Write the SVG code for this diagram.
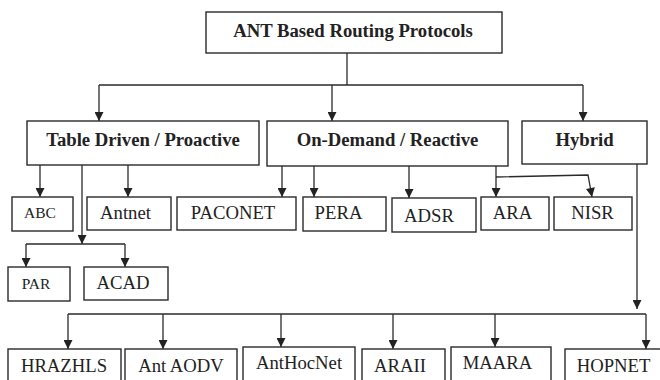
<svg xmlns="http://www.w3.org/2000/svg" width="660" height="380" viewBox="0 0 660 380">
<style>
.box{fill:#fff;stroke:#2a2a2a;stroke-width:1.4}
.t{font-family:"Liberation Serif","Times New Roman",serif;font-size:18.7px;fill:#222;text-anchor:middle}
.b{font-weight:bold}
.s{font-size:15.5px}
.c{fill:none;stroke:#2a2a2a;stroke-width:1.3}
</style>
<defs>
<marker id="ah" viewBox="0 0 10 10" refX="10" refY="5" markerWidth="10" markerHeight="9" markerUnits="userSpaceOnUse" orient="auto">
<path d="M0,0 L10,5 L0,10 z" fill="#222"/>
</marker>
</defs>
<rect width="660" height="380" fill="#fff"/>
<g id="connectors" class="c">
<path d="M347 53 V85"/>
<path d="M99 85 H583"/>
<path d="M99 85 V121" marker-end="url(#ah)"/>
<path d="M332 85 V121" marker-end="url(#ah)"/>
<path d="M583 85 V121" marker-end="url(#ah)"/>
<path d="M40 165 V197" marker-end="url(#ah)"/>
<path d="M82 165 V244" marker-end="url(#ah)"/>
<path d="M128 165 V197" marker-end="url(#ah)"/>
<path d="M26 244 H125"/>
<path d="M26 244 V267" marker-end="url(#ah)"/>
<path d="M125 244 V267" marker-end="url(#ah)"/>
<path d="M282 166 V197" marker-end="url(#ah)"/>
<path d="M314 166 V197" marker-end="url(#ah)"/>
<path d="M409 166 V198" marker-end="url(#ah)"/>
<path d="M496 166 V197" marker-end="url(#ah)"/>
<path d="M496 177 L588 175 L592 197" marker-end="url(#ah)"/>
<path d="M637 164 V309" marker-end="url(#ah)"/>
<path d="M68 314 H646"/>
<path d="M68 314 V349" marker-end="url(#ah)"/>
<path d="M163 314 V349" marker-end="url(#ah)"/>
<path d="M281 314 V347" marker-end="url(#ah)"/>
<path d="M393 314 V349" marker-end="url(#ah)"/>
<path d="M495 314 V347" marker-end="url(#ah)"/>
<path d="M646 314 V349" marker-end="url(#ah)"/>
</g>
<g id="root"><rect class="box" x="206" y="12" width="296" height="41"/><text class="t b" x="353" y="37">ANT Based Routing Protocols</text></g>
<g id="table"><rect class="box" x="27" y="121" width="232" height="44"/><text class="t b" x="143" y="146">Table Driven / Proactive</text></g>
<g id="ondemand"><rect class="box" x="267" y="121" width="241" height="45"/><text class="t b" x="387.5" y="146">On-Demand / Reactive</text></g>
<g id="hybrid"><rect class="box" x="522" y="121" width="125" height="43"/><text class="t b" x="584.5" y="146">Hybrid</text></g>
<g id="abc"><rect class="box" x="12" y="197" width="61" height="34"/><text class="t s" x="40" y="218">ABC</text></g>
<g id="antnet"><rect class="box" x="87" y="197" width="84" height="33"/><text class="t" x="125.5" y="219">Antnet</text></g>
<g id="paconet"><rect class="box" x="177" y="197" width="119" height="33"/><text class="t" x="233" y="219">PACONET</text></g>
<g id="pera"><rect class="box" x="303" y="197" width="83" height="34"/><text class="t" x="338.5" y="219">PERA</text></g>
<g id="adsr"><rect class="box" x="392" y="198" width="84" height="34"/><text class="t" x="429" y="222">ADSR</text></g>
<g id="ara"><rect class="box" x="481" y="197" width="68" height="33"/><text class="t" x="512.5" y="219">ARA</text></g>
<g id="nisr"><rect class="box" x="554" y="197" width="78" height="33"/><text class="t" x="592.5" y="219">NISR</text></g>
<g id="par"><rect class="box" x="8" y="267" width="62" height="34"/><text class="t s" x="36" y="289">PAR</text></g>
<g id="acad"><rect class="box" x="84" y="267" width="84" height="33"/><text class="t" x="123" y="289">ACAD</text></g>
<g id="hrazhls"><rect class="box" x="8" y="349" width="113" height="40"/><text class="t" x="64" y="372">HRAZHLS</text></g>
<g id="antaodv"><rect class="box" x="125" y="349" width="112" height="40"/><text class="t" x="181" y="372">Ant AODV</text></g>
<g id="anthocnet"><rect class="box" x="243" y="347" width="112" height="42"/><text class="t" x="299" y="369">AntHocNet</text></g>
<g id="araii"><rect class="box" x="362" y="349" width="83" height="40"/><text class="t" x="400" y="372">ARAII</text></g>
<g id="maara"><rect class="box" x="451" y="347" width="100" height="42"/><text class="t" x="497.5" y="369">MAARA</text></g>
<g id="hopnet"><rect class="box" x="565" y="349" width="100" height="40"/><text class="t" x="613.5" y="372">HOPNET</text></g>
</svg>
